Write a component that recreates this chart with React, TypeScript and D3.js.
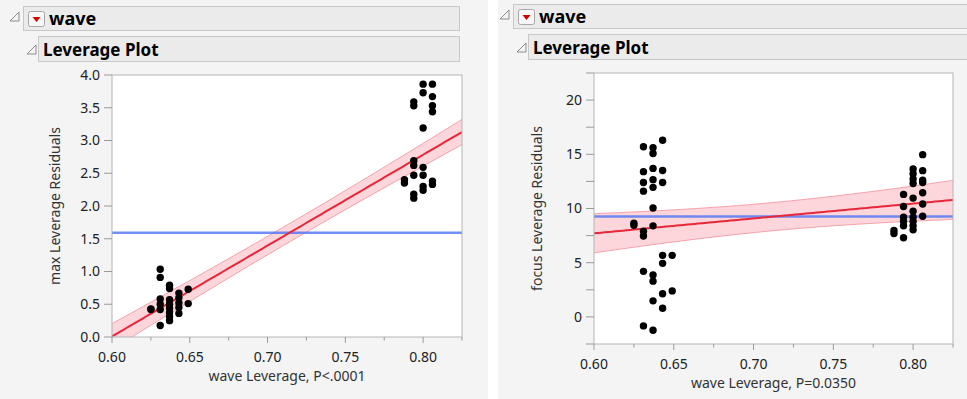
import React from "react";
import * as d3 from "d3";

// ---------- data ----------
const leverageColumns = [0.625, 0.631, 0.637, 0.643, 0.649, 0.788, 0.794, 0.8, 0.806];

const maxResidualsByColumn: number[][] = [
  [0.43, 0.42],
  [1.035, 0.91, 0.58, 0.5, 0.42, 0.175],
  [0.79, 0.74, 0.57, 0.5, 0.44, 0.37, 0.31, 0.25],
  [0.67, 0.6, 0.52, 0.45, 0.36],
  [0.73, 0.51],
  [2.4, 2.35],
  [3.59, 3.53, 2.69, 2.62, 2.47, 2.18, 2.12],
  [3.86, 3.73, 3.19, 2.59, 2.47, 2.3, 2.24],
  [3.86, 3.67, 3.53, 3.44, 2.38, 2.33],
];

const focusResidualsByColumn: number[][] = [
  [8.65, 8.45],
  [15.7, 13.4, 12.4, 11.6, 7.9, 7.47, 4.2, -0.83],
  [15.6, 15.07, 13.7, 12.66, 11.95, 10.05, 8.4, 3.86, 3.3, 1.48, -1.23],
  [16.3, 13.5, 12.4, 5.68, 4.94, 2.13, 0.8],
  [5.68, 2.4],
  [7.98, 7.7],
  [11.3, 10.19, 9.2, 8.8, 8.4, 7.3],
  [13.65, 13.2, 12.72, 12.3, 10.96, 9.75, 9.2, 8.8, 8.4, 8.03],
  [14.97, 13.49, 12.6, 12.4, 11.45, 10.42, 9.28],
];

const xTicksMajor = [0.6, 0.65, 0.7, 0.75, 0.8];
const xTicksMinor = [0.625, 0.675, 0.725, 0.775, 0.825];
const maxYTicks = [0, 0.5, 1, 1.5, 2, 2.5, 3, 3.5, 4];
const focusYTicks = [-2.5, 0, 2.5, 5, 7.5, 10, 12.5, 15, 17.5, 20, 22.5];
const focusYLabels = [0, 5, 10, 15, 20];

// fit summaries
const maxFit = { xbar: 0.714, ybar: 1.59, slope: 13.87, ciCenter: 0.14, ciScale: 0.117 };
const focusFit = { xbar: 0.713, ybar: 9.26, slope: 13.7, ciCenter: 1.3, ciScale: 0.117 };

const headerTitle = "wave";
const subTitle = "Leverage Plot";

// ---------- drawing ----------
const FONT = "'Segoe UI', 'Noto Sans', sans-serif";

type Fit = typeof maxFit;

interface PlotProps {
  id: string;
  frame: { x0: number; x1: number; y0: number; y1: number };
  yDomain: [number, number];
  yTicks: number[];
  yLabels: number[];
  yFormat: (v: number) => string;
  data: number[][];
  fit: Fit;
  yTitle: string;
  xTitle: string;
}

function Plot(p: PlotProps) {
  const { frame, fit } = p;
  const x = d3.scaleLinear().domain([0.6, 0.825]).range([frame.x0, frame.x1]);
  const y = d3.scaleLinear().domain(p.yDomain).range([frame.y1, frame.y0]);
  const xs = d3.range(0, 101).map((i) => 0.6 + (0.225 * i) / 100);
  const fitY = (v: number) => fit.ybar + fit.slope * (v - fit.xbar);
  const hw = (v: number) => fit.ciCenter * Math.sqrt(1 + ((v - fit.xbar) / fit.ciScale) ** 2);
  const area = d3
    .area<number>()
    .x((v) => x(v))
    .y0((v) => y(fitY(v) - hw(v)))
    .y1((v) => y(fitY(v) + hw(v)));
  const upper = d3.line<number>().x((v) => x(v)).y((v) => y(fitY(v) + hw(v)));
  const lower = d3.line<number>().x((v) => x(v)).y((v) => y(fitY(v) - hw(v)));
  const line = d3.line<number>().x((v) => x(v)).y((v) => y(fitY(v)));
  const clipId = `clip-${p.id}`;
  const cy = (frame.y0 + frame.y1) / 2;
  return (
    <g>
      <defs>
        <clipPath id={clipId}>
          <rect x={frame.x0} y={frame.y0} width={frame.x1 - frame.x0} height={frame.y1 - frame.y0} />
        </clipPath>
      </defs>
      <rect x={frame.x0} y={frame.y0} width={frame.x1 - frame.x0} height={frame.y1 - frame.y0} fill="#fff" />
      <g clipPath={`url(#${clipId})`}>
        <path d={area(xs) || ""} fill="#fcd6db" />
        <path d={upper(xs) || ""} fill="none" stroke="#f6a0ab" strokeWidth={1} />
        <path d={lower(xs) || ""} fill="none" stroke="#f6a0ab" strokeWidth={1} />
        <line x1={frame.x0} x2={frame.x1} y1={y(fit.ybar)} y2={y(fit.ybar)} stroke="#4d73f5" strokeOpacity={0.8} strokeWidth={2.5} />
        <path d={line(xs) || ""} fill="none" stroke="#e8283a" strokeWidth={2} />
        {p.data.map((col, i) =>
          col.map((v, j) => <circle key={`${i}-${j}`} cx={x(leverageColumns[i])} cy={y(v)} r={3.7} fill="#000" />)
        )}
      </g>
      <rect
        x={frame.x0}
        y={frame.y0}
        width={frame.x1 - frame.x0}
        height={frame.y1 - frame.y0}
        fill="none"
        stroke="#b4b4b4"
        strokeWidth={1}
      />
      {/* y axis */}
      {p.yTicks.map((t) => (
        <line key={`yt${t}`} x1={frame.x0 - 8} x2={frame.x0} y1={y(t)} y2={y(t)} stroke="#9a9a9a" />
      ))}
      {p.yLabels.map((t) => (
        <text
          key={`yl${t}`}
          x={frame.x0 - 12}
          y={y(t)}
          dy="0.35em"
          textAnchor="end"
          fontFamily={FONT}
          fontSize={14}
          fill="#222"
        >
          {p.yFormat(t)}
        </text>
      ))}
      {/* x axis */}
      {xTicksMajor.map((t) => (
        <line key={`xt${t}`} x1={x(t)} x2={x(t)} y1={frame.y1} y2={frame.y1 + 6} stroke="#9a9a9a" />
      ))}
      {xTicksMinor.map((t) => (
        <line key={`xm${t}`} x1={x(t)} x2={x(t)} y1={frame.y1} y2={frame.y1 + 3.5} stroke="#9a9a9a" />
      ))}
      {xTicksMajor.map((t) => (
        <text key={`xl${t}`} x={x(t)} y={frame.y1 + 24.5} textAnchor="middle" fontFamily={FONT} fontSize={14} fill="#222">
          {d3.format(".2f")(t)}
        </text>
      ))}
      <text
        x={(frame.x0 + frame.x1) / 2}
        y={frame.y1 + 44}
        textAnchor="middle"
        fontFamily={FONT}
        fontSize={14}
        fill="#333"
      >
        {p.xTitle}
      </text>
      <text
        transform={`translate(${frame.x0 - 52},${cy}) rotate(-90)`}
        textAnchor="middle"
        fontFamily={FONT}
        fontSize={14}
        fill="#333"
      >
        {p.yTitle}
      </text>
    </g>
  );
}

function Header({ dx, dy, width }: { dx: number; dy: number; width: number }) {
  return (
    <g transform={`translate(${dx},${dy})`}>
      <polygon points="10,21 19,21 19,12" fill="#f4f4f4" stroke="#8c8c8c" strokeWidth={1} />
      <rect x={23.5} y={6.5} width={width - 23} height={24} fill="#ebebeb" stroke="#c8c8c8" />
      <rect x={28.5} y={11.5} width={16} height={15} rx={2} fill="#f7f7f7" stroke="#a8a8a8" />
      <polygon points="32.5,17 40.5,17 36.5,22" fill="#d40000" />
      <text x={49} y={25} fontFamily={FONT} fontWeight="bold" fontSize={18} fill="#000">
        {headerTitle}
      </text>
      <polygon points="27,54 36,54 36,45" fill="#f4f4f4" stroke="#8c8c8c" strokeWidth={1} />
      <rect x={38.5} y={36.5} width={width - 38} height={25} fill="#ebebeb" stroke="#c8c8c8" />
      <text x={43} y={56} fontFamily={FONT} fontWeight="bold" fontSize={17} fill="#000">
        {subTitle}
      </text>
    </g>
  );
}

export default function App() {
  return (
    <svg
      width={967}
      height={399}
      style={{ position: "absolute", left: 0, top: 0, display: "block", background: "#fff" }}
    >
      <rect x={0} y={0} width={488} height={399} fill="#f4f4f4" />
      <rect x={498} y={0} width={469} height={399} fill="#f4f4f4" />
      <Header dx={0} dy={0} width={459} />
      <Header dx={490} dy={-2} width={490} />
      <Plot
        id="max"
        frame={{ x0: 112, x1: 462, y0: 75, y1: 337 }}
        yDomain={[0, 4]}
        yTicks={maxYTicks}
        yLabels={maxYTicks}
        yFormat={d3.format(".1f")}
        data={maxResidualsByColumn}
        fit={maxFit}
        yTitle="max Leverage Residuals"
        xTitle="wave Leverage, P<.0001"
      />
      <Plot
        id="focus"
        frame={{ x0: 594, x1: 953, y0: 73, y1: 344 }}
        yDomain={[-2.5, 22.5]}
        yTicks={focusYTicks}
        yLabels={focusYLabels}
        yFormat={d3.format("d")}
        data={focusResidualsByColumn}
        fit={focusFit}
        yTitle="focus Leverage Residuals"
        xTitle="wave Leverage, P=0.0350"
      />
    </svg>
  );
}
